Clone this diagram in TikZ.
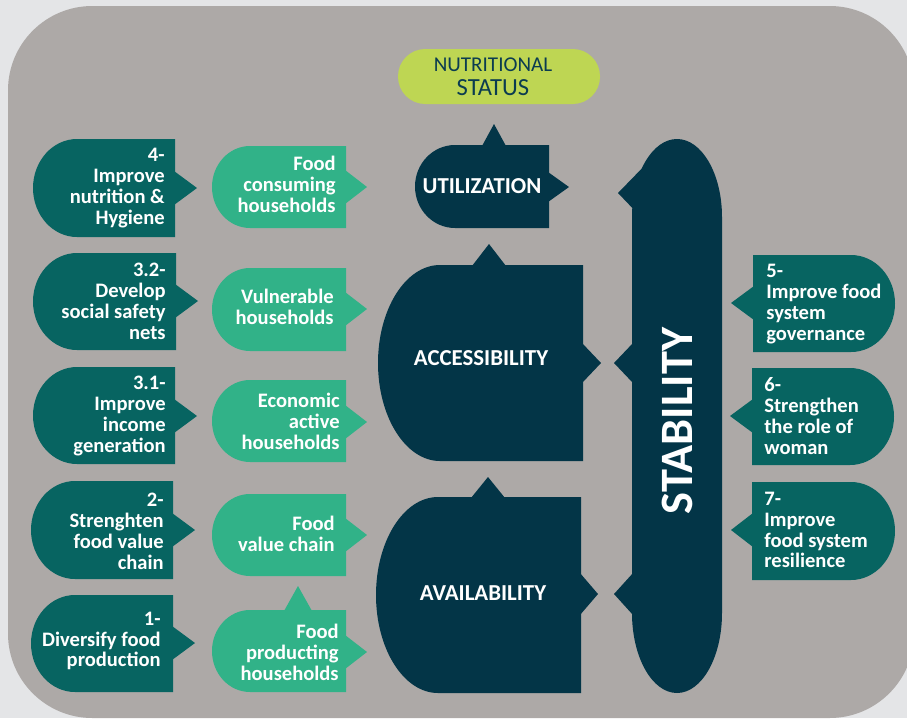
\documentclass[tikz,border=0pt]{standalone}
\usepackage{fontspec}
\setmainfont{Carlito}
\definecolor{outergray}{HTML}{E4E5E7}
\definecolor{panelgray}{HTML}{ADA9A7}
\definecolor{darkteal}{HTML}{076461}
\definecolor{leafgreen}{HTML}{31B288}
\definecolor{deepnavy}{HTML}{033547}
\definecolor{limegreen}{HTML}{BED653}
\definecolor{navytext}{HTML}{0B3C50}
\tikzset{
  boxtext/.style={text=white, inner sep=0pt, font=\bfseries\fontsize{11.7}{11.9}\selectfont},
  lefttext/.style={boxtext, anchor=east, align=right},
  righttext/.style={boxtext, anchor=west, align=left},
  pillartext/.style={text=white, inner sep=0pt, font=\bfseries\fontsize{13}{14}\selectfont},
  stabtext/.style={text=white, inner sep=0pt, rotate=90, font=\bfseries\fontsize{26.4}{28}\selectfont},
  statustext/.style={text=navytext, inner sep=0pt}
}
% rounded at the left: colour, left, top, right, bottom, x radius
\newcommand{\lpill}[6]{\fill[#1] (#4,#3) -- (#2+#6,#3) arc[start angle=270, end angle=90, x radius=#6, y radius={(#5-#3)/2}] -- (#4,#5) -- cycle;}
% rounded at the right
\newcommand{\rpill}[6]{\fill[#1] (#2,#3) -- (#4-#6,#3) arc[start angle=-90, end angle=90, x radius=#6, y radius={(#5-#3)/2}] -- (#2,#5) -- cycle;}
% side tip: colour, base x, y, tip x, half base
\newcommand{\htip}[5]{\fill[#1] (#2,#3-#5) -- (#4,#3) -- (#2,#3+#5) -- cycle;}
% top tip: colour, base y, x, tip y, half base
\newcommand{\vtip}[5]{\fill[#1] (#3-#5,#2) -- (#3,#4) -- (#3+#5,#2) -- cycle;}
\begin{document}
\begin{tikzpicture}[x=0.02cm, y=-0.02cm]
\useasboundingbox (0,0) rectangle (907,718);
\fill[outergray] (0,0) rectangle (907,718);
\fill[panelgray, rounded corners=48pt] (8,6) rectangle (914,718);

\fill[limegreen, rounded corners=15.5pt] (398,49) rectangle (600,104);
\node[statustext, font=\fontsize{12}{13}\selectfont] (nutri) at (493,65) {NUTRITIONAL};
\node[statustext, font=\fontsize{14}{15}\selectfont] (status) at (493,88) {STATUS};

\lpill{darkteal}{33}{139}{175}{237}{44}
\htip{darkteal}{174}{188}{197}{17}
\node[lefttext] (act4) at (165,188) {4-\\Improve\\nutrition \&\\Hygiene};
\lpill{darkteal}{33}{253}{176}{350}{44}
\htip{darkteal}{175}{301}{198}{17}
\node[lefttext] (act32) at (166,301) {3.2-\\Develop\\social safety\\nets};
\lpill{darkteal}{33}{367}{175}{464}{44}
\htip{darkteal}{174}{416}{197}{17}
\node[lefttext] (act31) at (166,416) {3.1-\\Improve\\income\\generation};
\lpill{darkteal}{31}{481}{173}{579}{44}
\htip{darkteal}{172}{530}{195}{17}
\node[lefttext] (act2) at (164,531) {2-\\Strenghten\\food value\\chain};
\lpill{darkteal}{31}{595}{173}{692}{44}
\htip{darkteal}{172}{643}{195}{17}
\node[lefttext] (act1) at (161,641) {1-\\Diversify food\\production};

\lpill{leafgreen}{212}{146}{346}{228}{38}
\htip{leafgreen}{345}{187}{367}{17}
\node[lefttext] (consume) at (336,184) {Food\\consuming\\households};
\lpill{leafgreen}{212}{268}{346}{351}{38}
\htip{leafgreen}{345}{309}{367}{17}
\node[lefttext] (vulner) at (334,307) {Vulnerable\\households};
\lpill{leafgreen}{212}{380}{346}{462}{38}
\htip{leafgreen}{345}{422}{367}{17}
\node[lefttext] (econ) at (340,421) {Economic\\active\\households};
\lpill{leafgreen}{212}{494}{346}{576}{38}
\htip{leafgreen}{345}{535}{367}{17}
\node[lefttext] (chain) at (335,534) {Food\\value chain};
\lpill{leafgreen}{212}{610}{346}{692}{38}
\htip{leafgreen}{345}{652}{367}{17}
\vtip{leafgreen}{611}{298}{586}{14}
\node[lefttext] (produce) at (339,652) {Food\\producting\\households};

\lpill{deepnavy}{415}{145}{549}{228}{40}
\htip{deepnavy}{548}{187}{569}{15}
\vtip{deepnavy}{146}{494}{124}{12}
\node[pillartext] (util) at (482,186) {UTILIZATION};
\lpill{deepnavy}{378}{265}{583}{461}{62}
\htip{deepnavy}{582}{363}{601}{20}
\vtip{deepnavy}{266}{489}{244}{17}
\node[pillartext] (access) at (481,358) {ACCESSIBILITY};
\lpill{deepnavy}{376}{497}{581}{693}{62}
\htip{deepnavy}{580}{594}{598}{21}
\vtip{deepnavy}{498}{488}{477}{17}
\node[pillartext] (avail) at (483,593) {AVAILABILITY};

\fill[deepnavy] (632,217) arc[start angle=180, end angle=360, x radius=45, y radius=78]
  -- (722,613) arc[start angle=0, end angle=180, x radius=45, y radius=80] -- cycle;
\fill[deepnavy] (640,216) -- (618,193) -- (652,158) -- cycle;
\htip{deepnavy}{633}{363}{614}{20}
\htip{deepnavy}{633}{594}{614}{21}
\node[stabtext] (stab) at (677,421) {STABILITY};

\rpill{darkteal}{753}{255}{895}{352}{44}
\htip{darkteal}{754}{303}{731}{17}
\node[righttext] (act5) at (766,304) {5-\\Improve food\\system\\governance};
\rpill{darkteal}{752}{368}{894}{465}{44}
\htip{darkteal}{753}{416}{730}{17}
\node[righttext] (act6) at (764,416) {6-\\Strengthen\\the role of\\woman};
\rpill{darkteal}{752}{482}{895}{580}{44}
\htip{darkteal}{753}{530}{731}{17}
\node[righttext] (act7) at (764,530) {7-\\Improve\\food system\\resilience};
\end{tikzpicture}
\end{document}
